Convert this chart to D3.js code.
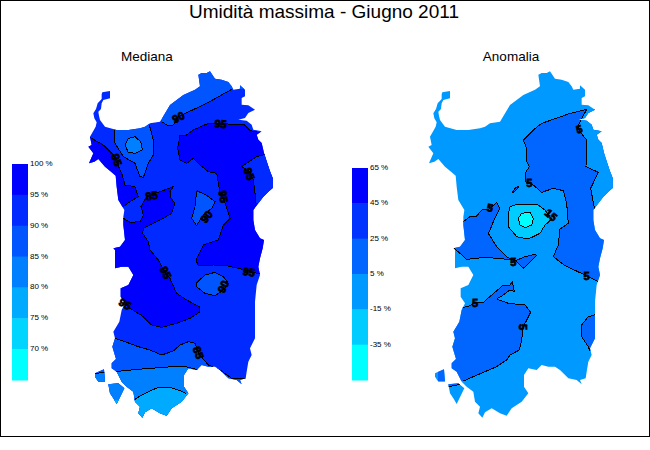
<!DOCTYPE html>
<html>
<head>
<meta charset="utf-8">
<script src="https://cdn.jsdelivr.net/npm/d3@7"></script>
<style>
  html, body { margin: 0; padding: 0; background: #fff; }
  text { font-family: "Liberation Sans", Arial, sans-serif; fill: #000; }
</style>
</head>
<body>
<svg id="chart" width="650" height="450"></svg>
<script>
// Legend classes, top to bottom
const medianaTicks = ["100 %", "95 %", "90 %", "85 %", "80 %", "75 %", "70 %"];
const medianaColors = ["#0000ff", "#002aff", "#0055ff", "#0080ff", "#00aaff", "#00d5ff", "#00ffff"];
const anomaliaTicks = ["65 %", "45 %", "25 %", "5 %", "-15 %", "-35 %"];
const anomaliaColors = ["#0000ff", "#0033ff", "#0066ff", "#0099ff", "#00ccff", "#00ffff"];

// Island outline, in map grid units
const coast = [[355,44],[365,39],[380,39],[390,34],[400,49],[405,56],[425,59],[445,66],[455,79],[460,89],[480,86],[480,76],[495,89],[495,109],[485,114],[485,134],[505,136],[525,149],[505,159],[495,174],[475,179],[500,182],[515,194],[520,209],[545,214],[530,224],[535,239],[545,249],[552,279],[560,304],[570,334],[578,354],[578,384],[565,395],[550,410],[535,430],[520,450],[520,480],[525,510],[540,535],[552,540],[548,565],[540,595],[535,620],[540,645],[530,675],[525,725],[525,795],[525,835],[510,865],[515,885],[505,905],[500,935],[497,955],[480,960],[485,973],[470,960],[445,955],[420,930],[405,920],[385,920],[365,915],[350,930],[325,925],[312,945],[312,980],[325,1000],[305,1025],[275,1045],[260,1067],[240,1060],[215,1045],[195,1057],[187,1073],[175,1060],[180,1040],[165,1025],[160,995],[140,980],[125,965],[110,935],[95,925],[95,910],[108,897],[97,860],[105,835],[100,815],[118,785],[125,750],[135,730],[122,710],[122,685],[145,675],[160,645],[145,620],[125,620],[105,625],[105,570],[100,565],[120,560],[135,540],[130,495],[130,470],[133,450],[115,420],[110,380],[107,347],[95,337],[75,320],[55,297],[43,305],[27,310],[40,280],[25,260],[35,255],[30,230],[47,200],[50,187],[43,175],[40,160],[48,147],[53,130],[65,117],[65,103],[67,97],[90,93],[90,115],[70,120],[65,130],[63,147],[55,155],[57,167],[60,180],[75,200],[110,210],[145,210],[180,205],[195,200],[210,190],[240,185],[270,135],[310,105],[345,89],[360,79]];
const isolaPietro = [[45,940],[72,928],[75,965],[55,965],[45,950]];
const isolaAntioco = [[85,973],[115,970],[133,985],[110,1032],[100,1015],[90,1000]];

// Mediana contours
const south85 = [[105,835],[140,847],[175,860],[210,870],[245,885],[280,873],[300,855],[325,845],[345,850],[355,880],[385,915],[420,930],[455,955],[497,955]];
const south80 = [[45,940],[102,935],[175,928],[250,922],[310,918],[345,927],[360,930]];
const south75 = [[162,1020],[185,1005],[215,990],[235,983],[270,982],[295,990],[318,1000]];
const north90 = [[245,185],[265,198],[280,195],[295,170],[380,130],[455,88]];
const nw90 = [[103,210],[105,250],[130,290],[165,310],[180,350],[190,352],[205,310],[220,285],[220,240],[208,195]];
const nw85 = [[135,255],[145,235],[165,230],[182,245],[187,270],[165,280],[145,277]];
const centre90 = [[350,392],[378,405],[405,425],[395,445],[375,460],[360,480],[350,497],[335,475],[345,440]];
const east90 = [[348,670],[375,645],[405,637],[430,650],[445,670],[430,690],[405,707],[375,700],[350,680]];
const east95 = [[555,283],[530,290],[510,303],[485,320],[510,335],[520,360],[525,400],[525,430]];
const centre95 = [[530,215],[510,212],[490,192],[445,192],[415,190],[380,192],[340,210],[320,225],[300,225],[293,265],[300,300],[320,310],[340,295],[360,315],[385,335],[410,340],[420,400],[435,430],[450,475],[430,495],[415,540],[370,555],[348,600],[355,617],[400,615],[440,617],[495,630],[540,642]];
const west95a = [[30,232],[70,255],[100,285],[125,340],[135,375],[165,380],[175,410],[150,425],[130,440]];
const west95b = [[130,475],[150,487],[180,485],[190,465],[183,440],[200,410],[240,395],[280,380],[270,395],[270,410],[285,430],[275,460],[250,475],[220,490],[190,505],[188,520],[205,545],[210,570],[235,600],[250,630],[270,655],[290,700],[320,720],[358,740],[358,757],[330,775],[290,790],[245,802],[215,795],[190,770],[150,745],[130,730]];

// Anomalia contours
const anomEast = [[485,148],[470,152],[430,162],[385,178],[350,190],[325,210],[295,240],[305,265],[305,305],[313,320],[300,340],[300,365],[325,375],[350,397],[385,385],[415,392],[425,430],[430,490],[405,507],[400,555],[385,590],[420,617],[480,645],[520,665]];
const anomStrip = [[485,148],[460,195],[465,215],[485,240],[483,320],[520,337],[497,385],[510,455]];
const anomWest = [[85,563],[105,580],[125,598],[180,592],[270,600],[295,625],[335,587],[330,583],[300,590],[270,603],[245,590],[215,560],[190,520],[195,510],[205,485],[225,445],[215,428],[190,448],[170,450],[155,468],[135,470],[115,485]];
const anomSouth = [[108,742],[130,740],[150,727],[175,727],[235,675],[255,675],[262,665],[268,695],[255,690],[235,705],[215,717],[250,730],[300,735],[317,757],[295,800],[290,840],[283,870],[255,885],[245,900],[215,920],[115,963]];
const anomCoast = [[515,763],[490,770],[470,795],[470,830],[490,860],[495,873]];
const anomIsland = [[70,980],[105,973]];
const anomBit = [[262,398],[270,385],[282,378],[272,392]];
const anomRing = [[250,460],[255,440],[280,432],[335,432],[360,450],[380,478],[360,495],[345,520],[310,537],[275,530],[250,500]];
const anomCore = [[280,475],[290,460],[315,457],[325,475],[320,495],[300,503],[285,495]];

// Contour labels: grid position, text, rotation
const medianaLabels = [[295,172,"90",-25],[422,192,"95",5],[110,300,"95",70],[215,407,"85",-10],[430,410,"95",80],[380,470,"90",-50],[508,342,"95",70],[257,638,"95",65],[430,680,"90",-65],[507,636,"95",10],[135,732,"95",30],[355,878,"85",70]];
const anomaliaLabels = [[463,208,"5",-15],[313,370,"5",0],[195,443,"5",10],[378,465,"15",40],[265,605,"5",0],[485,647,"5",0],[150,729,"5",0],[295,801,"5",90]];

const width = 650;
const height = 450;
const svg = d3.select("#chart");

// Frame
svg.append("rect")
  .attr("x", 0.5).attr("y", 0.5)
  .attr("width", width - 1).attr("height", 436)
  .attr("fill", "none").attr("stroke", "#000").attr("shape-rendering", "crispEdges");

// Titles
svg.append("text").attr("x", 324).attr("y", 18).attr("text-anchor", "middle")
  .attr("font-size", 19).text("Umidità massima - Giugno 2011");
svg.append("text").attr("x", 147).attr("y", 61).attr("text-anchor", "middle")
  .attr("font-size", 13.5).text("Mediana");
svg.append("text").attr("x", 511).attr("y", 61).attr("text-anchor", "middle")
  .attr("font-size", 13.5).text("Anomalia");

// Draws one map panel
function drawMap(id, x0, contourX0, fills, lines, labels) {
  const y = d3.scaleLinear().domain([0, 1095]).range([60, 425]);
  const xCoast = d3.scaleLinear().domain([0, 600]).range([x0, x0 + 200]);
  const x = d3.scaleLinear().domain([0, 600]).range([contourX0, contourX0 + 200]);
  const coastLine = d3.line().x(d => xCoast(d[0])).y(d => y(d[1]));
  const path = d3.line().x(d => x(d[0])).y(d => y(d[1]));

  const coastPath = [coast, isolaPietro, isolaAntioco].map(c => coastLine(c) + "Z").join("");
  svg.append("clipPath").attr("id", id).append("path").attr("d", coastPath);

  const g = svg.append("g").attr("clip-path", `url(#${id})`).attr("shape-rendering", "crispEdges");

  g.selectAll("path.fill").data(fills).join("path")
    .attr("class", "fill")
    .attr("d", d => path(d.points) + "Z")
    .attr("fill", d => d.color);

  g.selectAll("path.line").data(lines).join("path")
    .attr("class", "line")
    .attr("d", d => path(d))
    .attr("fill", "none").attr("stroke", "#000").attr("stroke-width", 1);

  svg.selectAll(`text.${id}`).data(labels).join("text")
    .attr("class", id)
    .attr("transform", d => `translate(${x(d[0])},${y(d[1])}) rotate(${d[3]})`)
    .attr("text-anchor", "middle").attr("dy", "0.35em")
    .attr("font-size", 11).attr("font-weight", "bold")
    .attr("stroke", "#000").attr("stroke-width", 0.8)
    .text(d => d[2]);
}

// Draws a colour legend
function drawLegend(x0, top, bottom, colors, ticks) {
  const y = d3.scaleBand().domain(ticks).range([top, bottom]);
  const g = svg.append("g");
  g.selectAll("rect").data(ticks).join("rect")
    .attr("x", x0).attr("y", d => y(d))
    .attr("width", 16).attr("height", y.bandwidth() + 0.5)
    .attr("fill", (d, i) => colors[i]);
  g.selectAll("text").data(ticks).join("text")
    .attr("x", x0 + 18).attr("y", d => y(d) + 2)
    .attr("font-size", 8).text(d => d);
}

drawMap("mediana", 80, 80, [
  { color: medianaColors[1], points: [[-20,-20],[620,-20],[620,1100],[-20,1100]] },
  { color: medianaColors[2], points: [[-20,835]].concat(south85, [[620,955],[620,1100],[-20,1100]]) },
  { color: medianaColors[3], points: south80.concat([[360,1100],[-20,1100],[-20,940]]) },
  { color: medianaColors[4], points: south75.concat([[400,1000],[400,1100],[100,1100],[100,1020]]) },
  { color: medianaColors[2], points: north90.concat([[620,88],[620,-10],[150,-10],[150,150],[245,150]]) },
  { color: medianaColors[2], points: nw90.concat([[208,170],[103,170]]) },
  { color: medianaColors[3], points: nw85 },
  { color: medianaColors[2], points: centre90 },
  { color: medianaColors[2], points: east90 },
  { color: medianaColors[0], points: centre95.concat([[620,642],[620,215]]) },
  { color: medianaColors[1], points: east95.concat([[620,430],[620,283]]) },
  { color: medianaColors[0], points: west95a.concat([[60,460],[-20,460],[-20,232]]) },
  { color: medianaColors[0], points: west95b.concat([[60,730],[60,475]]) }
], [south85, south80, south75, north90, nw90, nw85.concat([nw85[0]]), centre90.concat([centre90[0]]), east90.concat([east90[0]]), east95, centre95, west95a, west95b], medianaLabels);

drawMap("anomalia", 420, 425, [
  { color: anomaliaColors[3], points: [[-20,-20],[620,-20],[620,1100],[-20,1100]] },
  { color: anomaliaColors[2], points: anomEast.concat([[620,665],[620,148]]) },
  { color: anomaliaColors[3], points: anomStrip.concat([[620,455],[620,148]]) },
  { color: anomaliaColors[2], points: anomWest.concat([[60,485],[60,563]]) },
  { color: anomaliaColors[2], points: anomSouth.concat([[40,963],[40,742]]) },
  { color: anomaliaColors[2], points: anomCoast.concat([[620,873],[620,763]]) },
  { color: anomaliaColors[2], points: anomIsland.concat([[105,960],[60,960]]) },
  { color: anomaliaColors[2], points: anomBit },
  { color: anomaliaColors[4], points: anomRing },
  { color: anomaliaColors[5], points: anomCore }
], [anomEast, anomStrip, anomWest, anomSouth, anomCoast, anomIsland, anomBit.concat([anomBit[0]]), anomRing.concat([anomRing[0]]), anomCore.concat([anomCore[0]])], anomaliaLabels);

drawLegend(12, 164, 380, medianaColors, medianaTicks);
drawLegend(352, 168, 380, anomaliaColors, anomaliaTicks);
</script>
</body>
</html>
